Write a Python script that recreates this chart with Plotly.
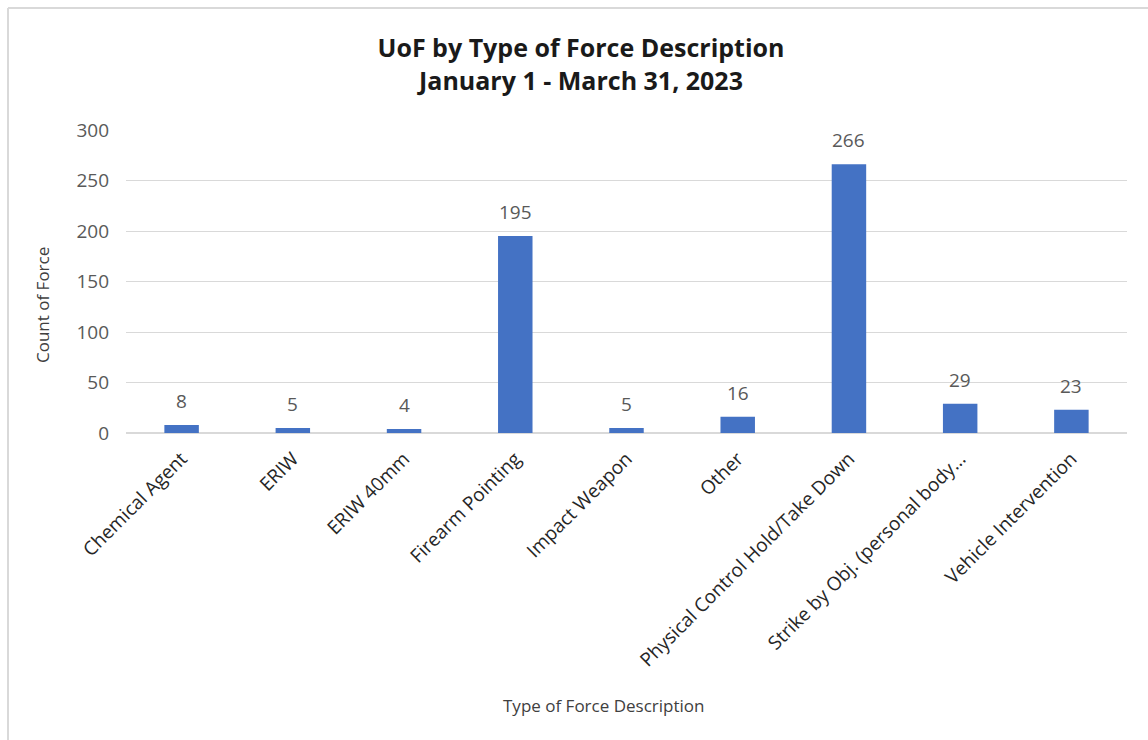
import plotly.graph_objects as go

categories = [
    "Chemical Agent",
    "ERIW",
    "ERIW 40mm",
    "Firearm Pointing",
    "Impact Weapon",
    "Other",
    "Physical Control Hold/Take Down",
    "Strike by Obj. (personal body...",
    "Vehicle Intervention",
]
counts = [8, 5, 4, 195, 5, 16, 266, 29, 23]
y_ticks = [0, 50, 100, 150, 200, 250, 300]

W, H = 1148, 740
L, R, T, B = 126, 21, 130, 307
plot_w = W - L - R
plot_h = H - T - B


def px_x(px):
    return (px - L) / plot_w


def px_y(py):
    return (H - B - py) / plot_h


FONT = "Open Sans"
BAR = "#4472C4"
GRID = "#D9D9D9"
TXT = "#595959"

fig = go.Figure(
    go.Bar(
        x=categories,
        y=counts,
        marker=dict(color=BAR, line=dict(width=0)),
        hoverinfo="x+y",
    )
)

# value labels above each bar
for c, v in zip(categories, counts):
    fig.add_annotation(
        x=c, y=v, text=str(v), showarrow=False,
        yanchor="middle", yshift=24,
        font=dict(family=FONT, size=19, color=TXT),
    )

# axis titles
fig.add_annotation(
    xref="paper", yref="paper", x=px_x(603), y=px_y(705),
    text="Type of Force Description", showarrow=False,
    xanchor="center", yanchor="middle",
    font=dict(family=FONT, size=17, color="#404040"),
)
fig.add_annotation(
    xref="paper", yref="paper", x=px_x(42), y=px_y(305),
    text="Count of Force", showarrow=False, textangle=-90,
    xanchor="center", yanchor="middle",
    font=dict(family=FONT, size=17, color="#404040"),
)

# chart frame edges
fig.add_shape(type="line", xref="paper", yref="paper",
              x0=px_x(8), x1=px_x(8), y0=px_y(8), y1=px_y(760),
              line=dict(color=GRID, width=2), layer="below")
fig.add_shape(type="line", xref="paper", yref="paper",
              x0=px_x(8), x1=px_x(1170), y0=px_y(8), y1=px_y(8),
              line=dict(color=GRID, width=2), layer="below")

fig.update_layout(
    width=W, height=H,
    margin=dict(l=L, r=R, t=T, b=B, autoexpand=False),
    paper_bgcolor="white", plot_bgcolor="white",
    bargap=0.69,
    showlegend=False,
    title=dict(
        text="<b>UoF by Type of Force Description<br>January 1 - March 31, 2023</b>",
        x=px_x(581), xref="paper", xanchor="center",
        y=1 - 57 / H, yref="container", yanchor="middle",
        font=dict(family=FONT, size=25, color="#1A1A1A"),
    ),
    xaxis=dict(
        tickangle=-45,
        tickfont=dict(family=FONT, size=19, color="#262626"),
        showgrid=False, showline=False, zeroline=False,
        ticks="", ticklabelstandoff=10,
    ),
    yaxis=dict(
        range=[0, 300], tickvals=y_ticks,
        tickfont=dict(family=FONT, size=19, color=TXT),
        showgrid=True, gridcolor=GRID, gridwidth=1,
        zeroline=True, zerolinecolor=GRID, zerolinewidth=2,
        showline=False, ticks="", ticklabelstandoff=16,
    ),
)

fig.write_html("out.html")
